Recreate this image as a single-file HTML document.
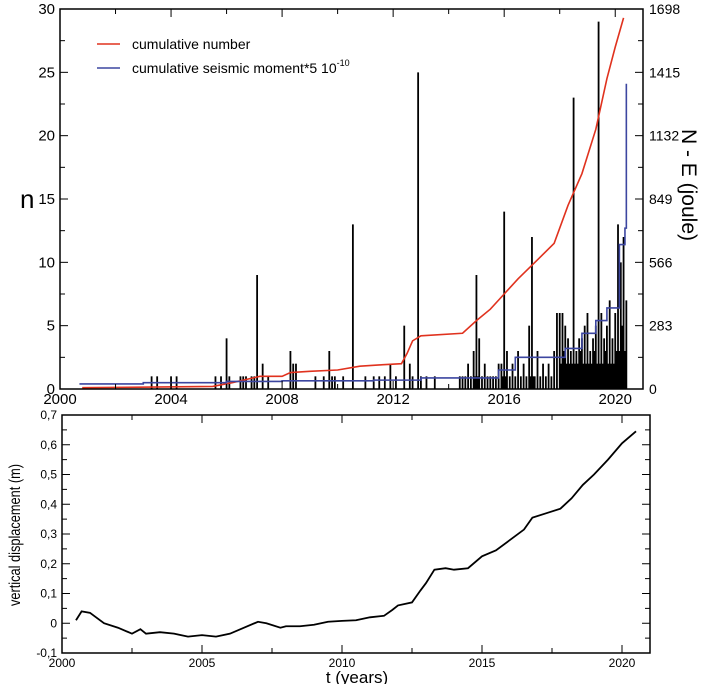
<!DOCTYPE html>
<html><head><meta charset="utf-8"><style>
body{margin:0;background:#fff;width:707px;height:684px;overflow:hidden}
svg{display:block;font-family:"Liberation Sans",sans-serif}
</style></head><body>
<svg id="c" width="707" height="684" viewBox="0 0 707 684"></svg>
<script>
const barYears=[2003.3,2003.5,2004.0,2004.2,2005.6,2005.8,2006.0,2006.1,2006.5,2006.6,2006.7,2006.9,2007.0,2007.1,2007.3,2007.5,2008.3,2008.4,2008.5,2009.2,2009.5,2009.7,2009.8,2009.9,2010.2,2010.55,2011.0,2011.3,2011.5,2011.7,2011.9,2012.1,2012.4,2012.6,2012.7,2012.9,2013.0,2013.2,2013.5,2014.4,2014.7,2014.9,2015.0,2015.1,2015.3,2015.6,2015.9,2016.0,2016.1,2016.3,2016.5,2016.7,2016.9,2017.0,2017.2,2017.4,2017.6,2017.8,2017.9,2018.0,2018.1,2018.2,2018.3,2018.4,2018.5,2018.6,2018.7,2018.8,2018.9,2019.0,2019.1,2019.2,2019.3,2019.4,2019.5,2019.6,2019.7,2019.8,2019.9,2020.0,2020.1,2020.2,2020.25,2020.3,2020.4,
2014.5,2014.6,2014.8,2015.2,2015.4,2015.5,2015.7,2015.8,2016.2,2016.4,2016.6,2016.8,2017.1,2017.3,2017.5,2017.7,2018.05,2018.15,2018.25,2018.35,2018.45,2018.55,2018.65,2018.75,2018.85,2018.95,2019.05,2019.15,2019.25,2019.35,2019.45,2019.55,2019.65,2019.75,2019.85,2019.95,2020.05,2020.15,2020.35,2014.95,2015.05,2015.95,2016.05,2016.95,2017.05];
const barValues=[1,1,1,1,1,1,4,1,1,1,1,1,1,9,2,1,3,2,2,1,1,3,1,1,1,13,1,1,1,1,2,1,5,2,1,25,1,1,1,1,2,3,9,4,2,1,2,14,3,2,3,2,5,12,3,2,2,3,6,6,6,5,4,3,23,3,4,4,5,6,3,4,5,29,6,4,5,7,4,6,13,10,5,12,7,
1,1,1,1,1,1,1,2,1,1,1,1,1,1,1,1,2,3,2,2,2,2,2,3,2,2,2,2,3,2,2,2,3,2,2,2,3,3,3,1,1,1,1,1,1];
const cumYears=[2000.8,2005.5,2006.2,2007.0,2007.2,2008.0,2008.3,2009.0,2010.0,2010.8,2011.5,2012.3,2012.5,2012.7,2013.0,2014.5,2015.0,2015.5,2016.0,2016.5,2017.2,2017.8,2018.3,2018.8,2019.3,2019.7,2020.0,2020.3];
const cumValues=[0.1,0.2,0.5,0.9,1.0,1.0,1.3,1.4,1.5,1.8,1.9,2.0,2.8,3.8,4.2,4.4,5.4,6.3,7.5,8.7,10.2,11.5,14.5,17,20.5,24.5,27,29.3];
const momYears=[2000.7,2003.0,2006.0,2008.0,2011.3,2013.0,2015.8,2016.4,2018.2,2018.8,2019.3,2019.7,2020.15,2020.35,2020.4];
const momValues=[0.4,0.5,0.6,0.65,0.7,0.87,1.5,2.5,3.2,4.4,5.4,6.4,11.4,12.7,24.1];
const dispYears=[2000.5,2000.7,2001,2001.5,2002,2002.5,2002.8,2003,2003.5,2004,2004.5,2005,2005.5,2006,2006.5,2007,2007.3,2007.8,2008,2008.5,2009,2009.5,2010,2010.5,2011,2011.5,2011.8,2012,2012.5,2012.8,2013,2013.3,2013.7,2014,2014.5,2015,2015.5,2016,2016.5,2016.8,2017.3,2017.8,2018.2,2018.6,2019,2019.5,2020,2020.5];
const dispValues=[0.01,0.04,0.035,0.0,-0.015,-0.035,-0.02,-0.035,-0.03,-0.035,-0.045,-0.04,-0.045,-0.035,-0.015,0.005,0.0,-0.015,-0.01,-0.01,-0.005,0.005,0.008,0.01,0.02,0.025,0.045,0.06,0.07,0.11,0.135,0.18,0.185,0.18,0.185,0.225,0.245,0.28,0.315,0.355,0.37,0.385,0.42,0.465,0.5,0.55,0.605,0.645];
const topYTicks=[0,5,10,15,20,25,30];
const rightLabels=["0","283","566","849","1132","1415","1698"];
const topXTicks=[2000,2004,2008,2012,2016,2020];
const botXTicks=[2000,2005,2010,2015,2020];
const botYTicks=[-0.1,0,0.1,0.2,0.3,0.4,0.5,0.6,0.7];

const NS="http://www.w3.org/2000/svg",svg=document.getElementById('c');
function mk(t,a,p){const e=document.createElementNS(NS,t);for(const k in a)e.setAttribute(k,a[k]);(p||svg).appendChild(e);return e;}
const tx=y=>60+(y-2000)*(583/21), ty=v=>389-v*380/30;
const bx=y=>62+(y-2000)*(588/21), by=v=>653-(v+0.1)*(238/0.8);
const gT=mk('g',{});
const gB=mk('g',{});
barYears.forEach((y,i)=>{const r=mk('line',{x1:tx(y),x2:tx(y),y1:ty(0),y2:ty(barValues[i]),stroke:'#000','stroke-width':1.8},gT);

});
let d='';cumYears.forEach((y,i)=>{d+=(i?'L':'M')+tx(y)+' '+ty(cumValues[i])+' ';});
const cl=mk('path',{d:d,fill:'none',stroke:'#e0321e','stroke-width':1.6},gT);


d='';momYears.forEach((y,i)=>{d+=(i?'L'+tx(y)+' '+ty(momValues[i-1])+' ':'M')+tx(y)+' '+ty(momValues[i])+' ';});
const ml=mk('path',{d:d,fill:'none',stroke:'#3c46a0','stroke-width':1.6},gT);


mk('rect',{x:60,y:9,width:583,height:380,fill:'none',stroke:'#000','stroke-width':1.5},gT);
for(let v=0;v<=30;v+=2.5){const L=v%5?5:8;mk('line',{x1:60,x2:60+L,y1:ty(v),y2:ty(v),stroke:'#000'},gT);mk('line',{x1:643,x2:643-L,y1:ty(v),y2:ty(v),stroke:'#000'},gT);}
for(let y=2000;y<=2020;y+=2){const L=y%4?5:8;mk('line',{x1:tx(y),x2:tx(y),y1:389,y2:389-L,stroke:'#000'},gT);mk('line',{x1:tx(y),x2:tx(y),y1:9,y2:9+L,stroke:'#000'},gT);}
topYTicks.forEach((v,i)=>{const t=mk('text',{x:55,y:ty(v)+5,'text-anchor':'end','font-size':15},gT);t.textContent=v;

const r=mk('text',{x:649,y:ty(v)+5,'font-size':14},gT);r.textContent=rightLabels[i];
});
topXTicks.forEach(y=>{const t=mk('text',{x:tx(y),y:404,'text-anchor':'middle','font-size':15},gT);t.textContent=y;
});
let t=mk('text',{x:20,y:208,'font-size':26},gT);t.textContent='n';
t=mk('text',{x:0,y:0,'font-size':21,'text-anchor':'middle',transform:'translate(682,185) rotate(90)'},gT);t.textContent='N - E (joule)';
mk('line',{x1:97,x2:120,y1:44,y2:44,stroke:'#e0321e','stroke-width':1.6},gT);
t=mk('text',{x:132,y:49,'font-size':14},gT);t.textContent='cumulative number';
mk('line',{x1:97,x2:120,y1:68,y2:68,stroke:'#3c46a0','stroke-width':1.6},gT);
t=mk('text',{x:132,y:73,'font-size':14},gT);t.innerHTML='cumulative seismic moment*5 10<tspan font-size="9" dy="-7">-10</tspan>';
d='';dispYears.forEach((y,i)=>{d+=(i?'L':'M')+bx(y)+' '+by(dispValues[i])+' ';});
const dl=mk('path',{d:d,fill:'none',stroke:'#000','stroke-width':1.8},gB);


mk('rect',{x:62,y:415,width:588,height:238,fill:'none',stroke:'#000','stroke-width':1.5},gB);
for(let v=-0.1;v<=0.71;v+=0.05){const L=Math.abs(Math.round(v*100))%10?5:8;mk('line',{x1:62,x2:62+L,y1:by(v),y2:by(v),stroke:'#000'},gB);mk('line',{x1:650,x2:650-L,y1:by(v),y2:by(v),stroke:'#000'},gB);}
for(let y=2000;y<=2020;y+=2.5){const L=y%5?5:8;mk('line',{x1:bx(y),x2:bx(y),y1:653,y2:653-L,stroke:'#000'},gB);mk('line',{x1:bx(y),x2:bx(y),y1:415,y2:415+L,stroke:'#000'},gB);}
botYTicks.forEach(v=>{const t=mk('text',{x:57,y:by(v)+4,'text-anchor':'end','font-size':12},gB);t.textContent=(Math.round(v*10)/10).toString().replace('.',',');
});
botXTicks.forEach(y=>{const t=mk('text',{x:bx(y),y:667,'text-anchor':'middle','font-size':12},gB);t.textContent=y;
});
t=mk('text',{x:357,y:683,'font-size':17,'text-anchor':'middle'},gB);t.textContent='t (years)';
t=mk('text',{x:0,y:0,'font-size':16,'text-anchor':'middle',transform:'translate(20,535) rotate(-90) scale(0.8,1)'},gB);t.textContent='vertical displacement (m)';
</script>
</body></html>
